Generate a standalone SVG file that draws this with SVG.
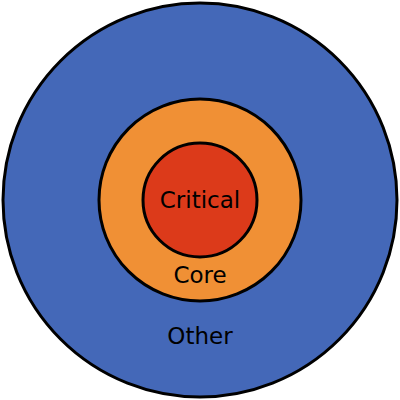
<svg xmlns="http://www.w3.org/2000/svg" width="400" height="400" viewBox="0 0 400 400">
<style>
circle{stroke:#000;stroke-width:3}
text{font-family:"DejaVu Sans",sans-serif;font-size:23px;text-anchor:middle;fill:#000}
</style>
<rect width="400" height="400" fill="#fff"/>
<g id="other"><circle cx="200" cy="200" r="197" fill="#4468B8"/><text x="200" y="344">Other</text></g>
<g id="core"><circle cx="200" cy="200" r="101" fill="#F09035"/><text x="200" y="283">Core</text></g>
<g id="critical"><circle cx="200" cy="200" r="57" fill="#DC3A1A"/><text x="200" y="208">Critical</text></g>
<g id="connectors"/>
</svg>
